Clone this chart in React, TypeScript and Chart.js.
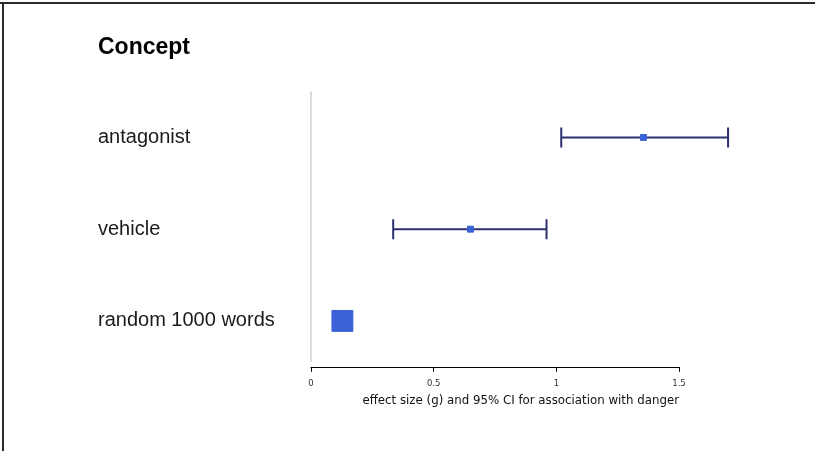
import React, { useEffect, useRef } from "react";
import { Chart, registerables } from "chart.js";

Chart.register(...registerables);

const categories = ["antagonist", "vehicle", "random 1000 words"];
const effectSizes = [1.355, 0.65, 0.128];
const ciLow: (number | null)[] = [1.02, 0.335, null];
const ciHigh: (number | null)[] = [1.70, 0.96, null];
const markerRadius = [4.2, 4.2, 14.8];
const xTickValues = [0, 0.5, 1, 1.5];
const chartTitle = "Concept";
const xAxisTitle = "effect size (g) and 95% CI for association with danger";

const decorPlugin = {
  id: "decor",
  beforeDraw(chart: any) {
    const { ctx, width, height, chartArea, scales } = chart;
    ctx.save();
    ctx.fillStyle = "#ffffff";
    ctx.fillRect(0, 0, width, height);
    ctx.fillStyle = "#2a2a2a";
    ctx.fillRect(0, 2, 815, 2);
    ctx.fillRect(2, 2, 2, height);
    // zero reference line
    const x0 = scales.x.getPixelForValue(0);
    ctx.strokeStyle = "#d0d0d0";
    ctx.lineWidth = 1.5;
    ctx.beginPath();
    ctx.moveTo(x0, chartArea.top);
    ctx.lineTo(x0, chartArea.bottom - 5);
    ctx.stroke();
    // x axis line from first to last tick
    const xa = scales.x.getPixelForValue(xTickValues[0]);
    const xb = scales.x.getPixelForValue(xTickValues[xTickValues.length - 1]);
    ctx.strokeStyle = "#000000";
    ctx.lineWidth = 1;
    ctx.beginPath();
    ctx.moveTo(xa - 0.5, Math.round(chartArea.bottom) + 0.5);
    ctx.lineTo(xb + 0.5, Math.round(chartArea.bottom) + 0.5);
    ctx.stroke();
    ctx.restore();
  },
  beforeDatasetsDraw(chart: any) {
    const { ctx, scales } = chart;
    ctx.save();
    ctx.strokeStyle = "#2e3170";
    ctx.lineWidth = 2;
    categories.forEach((c, i) => {
      const lo = ciLow[i];
      const hi = ciHigh[i];
      if (lo == null || hi == null) return;
      const y = scales.y.getPixelForValue(i);
      const xl = scales.x.getPixelForValue(lo);
      const xh = scales.x.getPixelForValue(hi);
      ctx.beginPath();
      ctx.moveTo(xl, y);
      ctx.lineTo(xh, y);
      ctx.moveTo(xl, y - 10);
      ctx.lineTo(xl, y + 10);
      ctx.moveTo(xh, y - 10);
      ctx.lineTo(xh, y + 10);
      ctx.stroke();
    });
    ctx.restore();
  },
};

export default function App() {
  const ref = useRef<HTMLCanvasElement | null>(null);
  useEffect(() => {
    if (!ref.current) return;
    const chart = new Chart(ref.current, {
      type: "scatter",
      data: {
        datasets: [
          {
            data: categories.map((c, i) => ({ x: effectSizes[i], y: c })),
            pointStyle: "rect",
            pointRadius: markerRadius,
            backgroundColor: "#3b62d6",
            borderColor: "#3b62d6",
            borderWidth: 1,
            clip: false,
          } as any,
        ],
      },
      plugins: [decorPlugin],
      options: {
        animation: false,
        responsive: false,
        maintainAspectRatio: false,
        layout: { padding: { left: 98, right: 138, top: 0, bottom: 45 } },
        plugins: {
          legend: { display: false },
          tooltip: { enabled: false },
          title: {
            display: true,
            text: chartTitle,
            align: "start",
            color: "#000000",
            font: { family: "Liberation Sans", size: 23, weight: "bold" },
            padding: { top: 34, bottom: 30 },
          },
        },
        scales: {
          x: {
            type: "linear",
            min: 0,
            max: 1.5,
            afterBuildTicks: (scale: any) => {
              scale.ticks = xTickValues.map((v) => ({ value: v }));
            },
            border: { display: false },
            grid: {
              display: true,
              drawOnChartArea: false,
              drawTicks: true,
              tickLength: 5,
              color: "#000000",
              lineWidth: 1,
            },
            ticks: {
              color: "#333333",
              padding: 7,
              maxRotation: 0,
              font: { family: "DejaVu Sans", size: 8.5 },
              callback: (v: any) => String(v),
            },
            title: {
              display: true,
              text: xAxisTitle,
              align: "end",
              color: "#111111",
              font: { family: "DejaVu Sans", size: 11.8, lineHeight: 0.85 },
              padding: { top: 0, bottom: 0 },
            },
          },
          y: {
            type: "category",
            labels: categories,
            offset: true,
            afterFit: (scale: any) => {
              scale.width = 213;
            },
            border: { display: false },
            grid: { display: false },
            ticks: {
              crossAlign: "far",
              color: "#1a1a1a",
              font: { family: "Liberation Sans", size: 20 },
            },
          } as any,
        },
      },
    });
    return () => chart.destroy();
  }, []);
  return (
    <div style={{ position: "fixed", left: 0, top: 0, width: 817, height: 451 }}>
      <canvas ref={ref} width={817} height={451} style={{ width: 817, height: 451, display: "block" }} />
    </div>
  );
}
